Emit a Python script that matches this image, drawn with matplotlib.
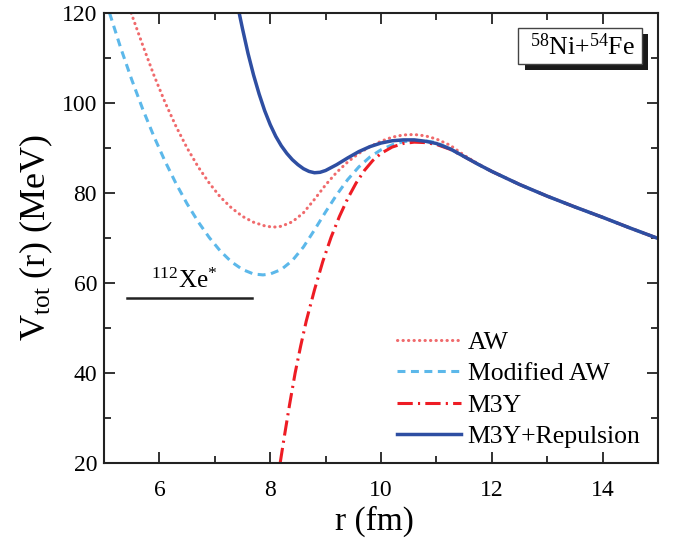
import matplotlib
matplotlib.use("Agg")
import matplotlib.pyplot as plt
from matplotlib.patches import Rectangle

plt.rcParams['font.family'] = ['Liberation Serif', 'DejaVu Serif']
plt.rcParams['mathtext.fontset'] = 'custom'
plt.rcParams['mathtext.rm'] = 'Liberation Serif'
plt.rcParams['mathtext.it'] = 'Liberation Serif:italic'

# Total potential V_tot(r) for 58Ni+54Fe, read per model
r_aw = [5.49, 5.7, 5.9, 6.1, 6.3, 6.5, 6.7, 6.9, 7.1, 7.3, 7.5, 7.7, 7.9,
        8.05, 8.2, 8.4, 8.6, 8.8, 9.0, 9.2, 9.4, 9.6, 9.8, 10.0, 10.2,
        10.4, 10.6, 10.8, 11.0, 11.25, 11.5, 11.75, 12.0, 12.5, 13.0, 13.5,
        14.0, 14.5, 15.0]
v_aw = [120, 112.8, 106.2, 100.2, 94.8, 90.0, 85.8, 82.2, 79.1, 76.7, 74.8,
        73.5, 72.7, 72.4, 72.6, 73.6, 75.6, 78.6, 81.8, 84.6, 86.9, 88.8,
        90.3, 91.5, 92.4, 92.9, 93.0, 92.7, 92.0, 90.6, 88.4, 86.5, 84.8,
        81.9, 79.3, 76.9, 74.6, 72.2, 69.9]

r_maw = [5.1, 5.3, 5.5, 5.7, 5.9, 6.1, 6.3, 6.5, 6.7, 6.9, 7.1, 7.3, 7.5,
         7.7, 7.87, 8.0, 8.2, 8.4, 8.6, 8.8, 9.0, 9.2, 9.4, 9.6, 9.8, 10.0,
         10.2, 10.4, 10.6, 10.8, 11.0, 11.25, 11.5, 11.75, 12.0, 12.5, 13.0,
         13.5, 14.0, 14.5, 15.0]
v_maw = [120, 112.3, 105.2, 98.6, 92.6, 87.1, 82.1, 77.6, 73.6, 70.1, 67.1,
         64.7, 63.0, 62.0, 61.8, 62.0, 63.0, 65.0, 68.0, 71.8, 75.8, 79.6,
         83.0, 85.8, 88.0, 89.6, 90.7, 91.4, 91.7, 91.6, 91.2, 89.8, 88.1,
         86.4, 84.8, 81.9, 79.3, 76.9, 74.6, 72.2, 69.9]

r_m3y = [8.18, 8.25, 8.35, 8.45, 8.55, 8.65, 8.8, 8.95, 9.1, 9.25, 9.4,
         9.55, 9.7, 9.85, 10.0, 10.2, 10.4, 10.6, 10.8, 11.0, 11.25, 11.5,
         11.75, 12.0, 12.5, 13.0, 13.5, 14.0, 14.5, 15.0]
v_m3y = [20, 25.5, 33, 40, 46, 51.5, 58.5, 64.8, 70.2, 74.8, 78.8,
         82.2, 85.0, 87.2, 88.8, 90.2, 91.0, 91.3, 91.2, 90.8, 89.7, 88.1,
         86.4, 84.8, 81.9, 79.3, 76.9, 74.6, 72.2, 69.9]

r_rep = [7.44, 7.5, 7.6, 7.7, 7.8, 7.9, 8.0, 8.1, 8.2, 8.3, 8.4, 8.5, 8.6,
         8.7, 8.8, 8.9, 9.0, 9.2, 9.4, 9.6, 9.8, 10.0, 10.2, 10.4, 10.6,
         10.8, 11.0, 11.25, 11.5, 11.75, 12.0, 12.5, 13.0, 13.5, 14.0, 14.5,
         15.0]
v_rep = [120, 116.5, 111, 106.2, 102, 98.3, 95.2, 92.6, 90.5, 88.8, 87.4,
         86.3, 85.4, 84.8, 84.5, 84.6, 85.0, 86.3, 87.8, 89.2, 90.3, 91.1,
         91.6, 91.8, 91.8, 91.5, 91.0, 89.8, 88.1, 86.4, 84.8, 81.9, 79.3,
         76.9, 74.6, 72.2, 69.9]

# Compound-nucleus level
xe_r = [5.42, 7.67]
xe_energy = 56.7

labels = ["AW", "Modified AW", "M3Y", "M3Y+Repulsion"]

fig = plt.figure(figsize=(6.81, 5.46), dpi=100)
ax = fig.add_axes([104 / 681, 1 - 463 / 546, 554 / 681, 450 / 546])

ax.plot(r_aw, v_aw, color='#f06a6c', lw=2.2, linestyle=(0, (0.1, 1.7)),
        dash_capstyle='round', label=labels[0])
ax.plot(r_maw, v_maw, color='#5cb8ea', lw=2.2, linestyle=(0, (2.6, 1.8)),
        label=labels[1])
ax.plot(r_m3y, v_m3y, color='#ee1c24', lw=2.2,
        linestyle=(0, (5.0, 1.7, 0.7, 1.7)), label=labels[2])
ax.plot(r_rep, v_rep, color='#2e4ea2', lw=2.5, label=labels[3])

ax.plot(xe_r, [xe_energy, xe_energy], color='#222222', lw=1.8)
ax.text(sum(xe_r) / 2 - 0.1, xe_energy + 2.3, r"$^{112}$Xe$^{*}$",
        ha='center', va='baseline', fontsize=18)

ax.set_xlim(5, 15)
ax.set_ylim(20, 120)
ax.set_xticks([6, 8, 10, 12, 14])
ax.set_xticks([5, 7, 9, 11, 13, 15], minor=True)
ax.set_yticks([20, 40, 60, 80, 100, 120])
ax.set_yticks([30, 50, 70, 90, 110], minor=True)
ax.tick_params(which='both', direction='in', top=True, right=True,
               width=1.3, color='#222222', labelsize=17)
ax.tick_params(which='major', length=8)
ax.tick_params(which='minor', length=5)
ax.tick_params(axis='x', which='major', pad=12)
ax.tick_params(axis='y', which='major', pad=5)
for s in ax.spines.values():
    s.set_linewidth(1.5)
    s.set_color('#222222')

ax.set_xlabel("r (fm)", fontsize=24)
ax.set_ylabel(r"V$_{\mathrm{tot}}$ (r) (MeV)", fontsize=26)
ax.xaxis.set_label_coords(0.489, -0.095)
ax.yaxis.set_label_coords(-0.088, 0.5)

# Reaction label with drop shadow
tr = fig.transFigure
W, H = 681, 546
ax.add_patch(Rectangle((525 / W, 1 - 70 / H), 123 / W, 36 / H,
                       transform=tr, facecolor='#1a1a1a', edgecolor='none',
                       zorder=5, clip_on=False))
ax.add_patch(Rectangle((518 / W, 1 - 64 / H), 124 / W, 36 / H,
                       transform=tr, facecolor='white', edgecolor='#444444',
                       lw=1.0, zorder=6, clip_on=False))
fig.text(582 / W, 1 - 47 / H, r"$^{58}$Ni+$^{54}$Fe", ha='center',
         va='center', fontsize=18.5, zorder=7)

leg = ax.legend(loc='upper left', bbox_to_anchor=(397 / W, 1 - 331 / H),
                bbox_transform=tr, frameon=False, fontsize=18.5,
                handlelength=2.5, handletextpad=0.25, labelspacing=0.33,
                borderpad=0, borderaxespad=0)

fig.savefig("out.png", dpi=100)
